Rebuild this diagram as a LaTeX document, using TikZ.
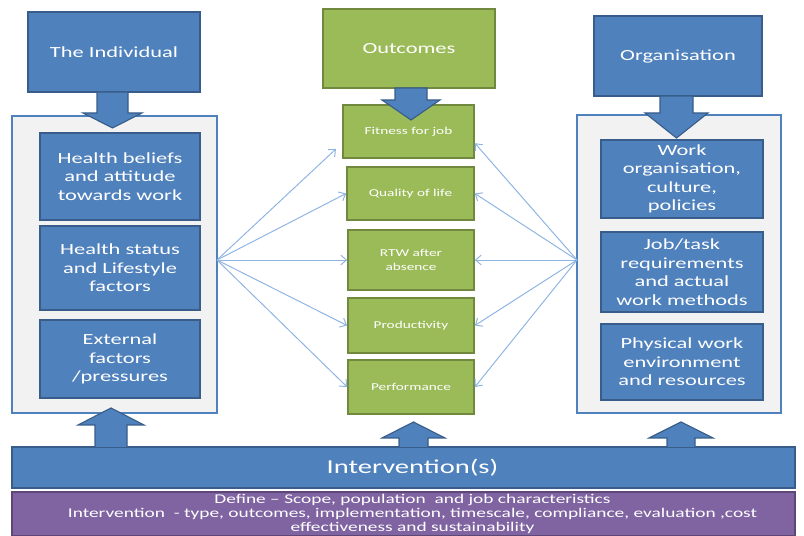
\documentclass[tikz,border=0pt]{standalone}
\usepackage{fontspec}
\setmainfont{Carlito}[FakeStretch=1.45]
\usetikzlibrary{arrows.meta}
\definecolor{boxblue}{HTML}{4F81BD}
\definecolor{boxline}{HTML}{385D8A}
\definecolor{boxgreen}{HTML}{9BBB59}
\definecolor{greenline}{HTML}{71893F}
\definecolor{panelgrey}{HTML}{F2F2F2}
\definecolor{boxpurple}{HTML}{8064A2}
\definecolor{purpleline}{HTML}{5C4776}
\definecolor{linkblue}{HTML}{8EB4E3}
\tikzset{
	bluebox/.style={draw=boxline, fill=boxblue, line width=1.2pt, text=white, align=center, inner sep=1pt, font=\fontsize{11}{13.2}\selectfont},
	titlebox/.style={bluebox, font=\fontsize{11}{13}\selectfont},
	greenbox/.style={draw=greenline, fill=boxgreen, line width=1.2pt, text=white, align=center, inner sep=1pt, font=\fontsize{7.5}{10}\selectfont},
	panel/.style={draw=boxblue, fill=panelgrey, line width=1.5pt, inner sep=0pt},
	blockarrow/.style={draw=boxline, fill=boxblue, line width=0.8pt},
	link/.style={draw=linkblue, line width=0.7pt}
}
\begin{document}
\begin{tikzpicture}[x=0.025cm, y=-0.025cm, >={Straight Barb[length=4pt,width=7pt]}]
					\useasboundingbox (0,0) rectangle (804,536);

					\node[titlebox, minimum width=4.3cm, minimum height=2cm] at (114,52) (ind) {The Individual};
					\node[panel, minimum width=5.125cm, minimum height=7.425cm] at (114.5,264.5) (lpanel) {};
					\node[bluebox, minimum width=4cm, minimum height=2.175cm] at (120,176.5) (beliefs) {Health beliefs\\and attitude\\towards work};
					\node[bluebox, minimum width=4cm, minimum height=2.1cm] at (120,268) (status) {Health status\\and Lifestyle\\factors};
					\node[bluebox, minimum width=4cm, minimum height=1.95cm] at (120,359) (external) {External\\factors\\/pressures};

					\node[titlebox, fill=boxgreen, draw=greenline, minimum width=4.3cm, minimum height=1.975cm] at (409,48.5) (out) {Outcomes};
					\node[greenbox, minimum width=3.275cm, minimum height=1.325cm] at (408.5,131.5) (fit) {Fitness for job};
					\node[greenbox, minimum width=3.175cm, minimum height=1.325cm] at (410.5,193.5) (qol) {Quality of life};
					\node[greenbox, minimum width=3.15cm, minimum height=1.5cm] at (411,260) (rtw) {RTW after\\absence};
					\node[greenbox, minimum width=3.15cm, minimum height=1.375cm] at (411,325.5) (prod) {Productivity};
					\node[greenbox, minimum width=3.15cm, minimum height=1.35cm] at (411,387) (perf) {Performance};

					\node[titlebox, minimum width=4.2cm, minimum height=2cm] at (678,56) (org) {Organisation};
					\node[panel, minimum width=5.1cm, minimum height=7.45cm] at (679,264) (rpanel) {};
					\node[bluebox, minimum width=4.05cm, minimum height=1.95cm] at (682,179) (culture) {Work\\organisation,\\culture,\\policies};
					\node[bluebox, minimum width=4.05cm, minimum height=2cm] at (682,272) (task) {Job/task\\requirements\\and actual\\work methods};
					\node[bluebox, minimum width=4.05cm, minimum height=1.9cm] at (682,362) (physical) {Physical work\\environment\\and resources};

					\node[bluebox, minimum width=19.575cm, minimum height=1.025cm, font=\fontsize{14}{16}\selectfont] at (403.5,467.5) (inter) {\hspace*{0.45cm}Intervention(s)};
					\node[bluebox, fill=boxpurple, draw=purpleline, minimum width=19.575cm, minimum height=1.1cm, font=\fontsize{9.5}{10.2}\selectfont] at (403.5,514) (define) {\hspace*{0.45cm}Define -- Scope, population\ \ and job characteristics\\\hspace*{0.45cm}Intervention\ \ - type, outcomes, implementation, timescale, compliance, evaluation ,cost\\\hspace*{0.45cm}effectiveness and sustainability};

					\draw[blockarrow] (97,92) -- (97,113) -- (83,113) -- (112.5,128) -- (142,113) -- (128,113) -- (128,92) -- cycle;
					\draw[blockarrow] (395,88) -- (395,100) -- (382,100) -- (411,120) -- (440,100) -- (427,100) -- (427,88) -- cycle;
					\draw[blockarrow] (660,96) -- (660,113) -- (645,113) -- (676.5,138) -- (708,113) -- (693,113) -- (693,96) -- cycle;

					\draw[blockarrow] (95,447) -- (95,425) -- (78,425) -- (111,408) -- (144,425) -- (127,425) -- (127,447);
					\draw[blockarrow] (399,447) -- (399,438) -- (382,438) -- (413.5,422) -- (445,438) -- (428,438) -- (428,447);
					\draw[blockarrow] (667,447) -- (667,438) -- (649,438) -- (681,422) -- (713,438) -- (695,438) -- (695,447);

					\coordinate (lsrc) at (217,260);
					\coordinate (rsrc) at (577,260);

					\draw[link, ->, shorten >=6pt] (lsrc)-- (fit.190);
					\draw[link, ->] (lsrc)-- (qol.west);
					\draw[link, ->] (lsrc)-- (rtw.west);
					\draw[link, ->] (lsrc)-- (prod.west);
					\draw[link, ->] (lsrc)-- (perf.west);

					\draw[link, ->] (rsrc)-- (fit.-10);
					\draw[link, ->] (rsrc)-- (qol.east);
					\draw[link, ->] (rsrc)-- (rtw.east);
					\draw[link, ->] (rsrc)-- (prod.east);
					\draw[link, ->] (rsrc)-- (perf.east);
				\end{tikzpicture}
\end{document}
